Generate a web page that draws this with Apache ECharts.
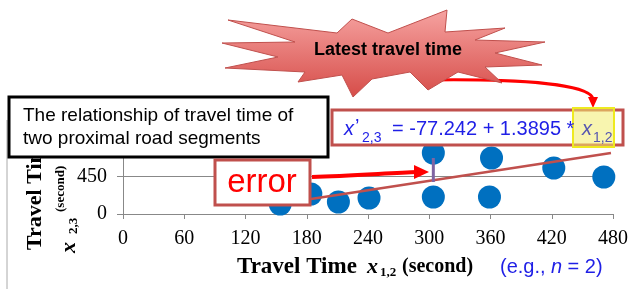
<!DOCTYPE html>
<html>
<head>
<meta charset="utf-8">
<script src="https://cdn.jsdelivr.net/npm/echarts@6/dist/echarts.min.js"></script>
<style>
html, body { margin: 0; padding: 0; background: #fff; }
#chart { width: 631px; height: 289px; }
</style>
</head>
<body>
<div id="chart"></div>
<script>
// travel time of segment 1,2 (x) against segment 2,3 (y), seconds
var travelX = [154, 184, 211, 241, 304, 304, 361, 359, 422, 471];
var travelY = [120, 240, 144, 192, 732, 204, 672, 204, 552, 444];
// fitted line as drawn in the picture
var trendX = [184, 478];
var trendY = [180, 732];
// error between observed and predicted at x = 304
var errorX = [304, 304];
var errorY = [672, 384];

var xMin = 0, xMax = 480, xStep = 60;
var yMin = 0, yMax = 900, yStep = 450;

var serif = '"Liberation Serif", "Times New Roman", serif';
var sans = '"Liberation Sans", Arial, sans-serif';
var blue = '#1f1fe6';
var brown = '#c0504d';

function pairs(xs, ys){
	var out = [];
	for(var i = 0; i < xs.length; i++) out.push([xs[i], ys[i]]);
	return out;
}

function txt(x, y, text, font, color, extra){
	var el = {
		type: 'text', x: x, y: y, z: 120,
		style: { text: text, font: font, fill: color, align: 'left', verticalAlign: 'middle' }
	};
	if(extra) for(var k in extra) el[k] = extra[k];
	return el;
}

// starburst outline
var starPts = [[228,20],[337,33],[352,19],[388,33],[447,10],[445,32],[505,28],[475,40],[545,42],
	[495,53],[542,65],[485,67],[502,83],[458,72],[428,90],[410,72],[372,79],[353,97],[342,75],
	[298,82],[305,72],[225,68],[278,57],[222,43],[295,42]];

var chart = echarts.init(document.getElementById('chart'));
var option = {
	animation: false,
	grid: { left: 123, right: 18, top: 139, bottom: 75 },
	xAxis: {
		type: 'value', min: xMin, max: xMax, interval: xStep,
		axisLine: { lineStyle: { color: '#888', width: 1 } },
		axisTick: { show: true, length: 5, lineStyle: { color: '#888' } },
		axisLabel: { color: '#000', fontFamily: serif, fontSize: 20, margin: 15 },
		splitLine: { show: false }
	},
	yAxis: {
		type: 'value', min: yMin, max: yMax, interval: yStep,
		axisLine: { show: true, lineStyle: { color: '#888', width: 1 } },
		axisTick: { show: true, length: 6, lineStyle: { color: '#888' } },
		axisLabel: { color: '#000', fontFamily: serif, fontSize: 20, margin: 16 },
		splitLine: { show: true, lineStyle: { color: ['#888', '#888', 'rgba(0,0,0,0)'], width: 1 } }
	},
	series: [{
		type: 'scatter',
		data: pairs(travelX, travelY),
		symbolSize: 23,
		itemStyle: { color: '#0070c0', opacity: 1 },
		z: 2
	}, {
		type: 'line',
		data: pairs(trendX, trendY),
		showSymbol: false,
		lineStyle: { color: brown, width: 2.5 },
		z: 3
	}, {
		type: 'line',
		data: pairs(errorX, errorY),
		showSymbol: false,
		lineStyle: { color: '#8064a2', width: 3 },
		z: 4
	}],
	graphic: [
		// chart frame edge
		{ type: 'line', z: 1, shape: { x1: 7, y1: 120, x2: 7, y2: 289 }, style: { stroke: '#aaa', lineWidth: 1 } },
		// y axis title
		txt(35, 250, 'Travel Time', 'bold 22px ' + serif, '#000', { rotation: Math.PI / 2, z: 50 }),
		txt(61, 212, '(second)', 'bold 13px ' + serif, '#000', { rotation: Math.PI / 2, z: 50 }),
		txt(69, 253, 'x', 'italic bold 22px ' + serif, '#000', { rotation: Math.PI / 2, z: 50 }),
		txt(74, 234, '2,3', 'bold 13px ' + serif, '#000', { rotation: Math.PI / 2, z: 50 }),
		// x axis title
		txt(237, 267, 'Travel Time', 'bold 23px ' + serif, '#000'),
		txt(367, 267, 'x', 'italic bold 22px ' + serif, '#000'),
		txt(380, 273, '1,2', 'bold 13px ' + serif, '#000'),
		txt(402, 267, '(second)', 'bold 20px ' + serif, '#000'),
		txt(500, 267, '(e.g.,', '20px ' + sans, blue),
		txt(551, 267, 'n', 'italic 20px ' + sans, blue),
		txt(562, 267, ' = 2)', '20px ' + sans, blue),
		// arrow from starburst to x1,2
		{ type: 'bezierCurve', z: 90, shape: { x1: 432, y1: 80, cpx1: 520, cpy1: 79, cpx2: 590, cpy2: 84, x2: 593, y2: 99 },
			style: { stroke: '#ff0000', lineWidth: 3, fill: null } },
		{ type: 'polygon', z: 90, shape: { points: [[588,97],[598,97],[593,108]] }, style: { fill: '#ff0000' } },
		// starburst
		{ type: 'polygon', z: 100, shape: { points: starPts },
			style: {
				fill: new echarts.graphic.LinearGradient(0, 0, 0, 1, [
					{ offset: 0, color: '#f6a3a1' }, { offset: 1, color: '#d64c48' }
				]),
				stroke: brown, lineWidth: 1
			} },
		txt(388, 50, 'Latest travel time', 'bold 18px ' + sans, '#000', { style: { text: 'Latest travel time', font: 'bold 18px ' + sans, fill: '#000', align: 'center', verticalAlign: 'middle' } }),
		// description box
		{ type: 'rect', z: 100, shape: { x: 9, y: 97, width: 319, height: 60 }, style: { fill: '#fff', stroke: '#000', lineWidth: 3 } },
		txt(23, 116, 'The relationship of travel time of', '19px ' + sans, '#000'),
		txt(23, 139, 'two proximal road segments', '19px ' + sans, '#000'),
		// regression equation box
		{ type: 'rect', z: 100, shape: { x: 332, y: 110, width: 291, height: 35 }, style: { fill: '#fff', stroke: brown, lineWidth: 3 } },
		txt(344, 129, 'x', 'italic 20px ' + sans, blue),
		txt(355, 127, '\u2019', '20px ' + sans, blue),
		txt(362, 138, '2,3', '14px ' + sans, blue),
		txt(392, 129, '= -77.242 + 1.3895 *', '20px ' + sans, blue),
		{ type: 'rect', z: 110, shape: { x: 573, y: 108, width: 41, height: 39 }, style: { fill: 'rgba(242,236,110,0.55)', stroke: '#eeea20', lineWidth: 2 } },
		txt(582, 129, 'x', 'italic 20px ' + sans, '#5656b0', { z: 130 }),
		txt(593, 138, '1,2', '14px ' + sans, '#5656b0', { z: 130 }),
		// error box and arrow
		{ type: 'bezierCurve', z: 90, shape: { x1: 312, y1: 177, cpx1: 350, cpy1: 176, cpx2: 390, cpy2: 173, x2: 418, y2: 172 },
			style: { stroke: '#ff0000', lineWidth: 4, fill: null } },
		{ type: 'polygon', z: 90, shape: { points: [[414,165],[429,172],[414,179]] }, style: { fill: '#ff0000' } },
		{ type: 'rect', z: 100, shape: { x: 215, y: 160, width: 95, height: 45 }, style: { fill: '#fff', stroke: brown, lineWidth: 3 } },
		txt(262, 183, 'error', '33px ' + sans, '#ff0000', { style: { text: 'error', font: '33px ' + sans, fill: '#ff0000', align: 'center', verticalAlign: 'middle' } })
	]
};
chart.setOption(option);
</script>
</body>
</html>
